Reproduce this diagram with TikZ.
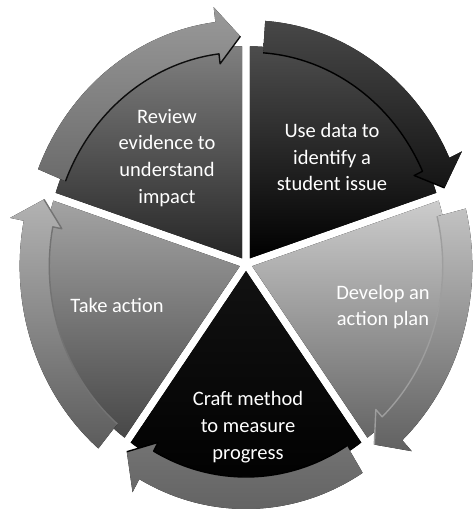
\documentclass[tikz,border=0pt]{standalone}
\usepackage{fontspec}
\setmainfont{Carlito}
\begin{document}
\begin{tikzpicture}[x=1pt,y=1pt,
  segtext/.style={text=white, align=center, inner sep=0pt,
    font=\fontsize{20.5}{26.8}\selectfont}]
\useasboundingbox (0,0) rectangle (472,514);
\fill[white] (0,0) rectangle (472,514);
% five pie segments, each with a circular arrow along its rim
\begin{scope}[shift={(246,250)}, xscale=0.925]
  \foreach \e/\wtop/\wbot/\btop/\bbot/\edge in
    {18/70/100/72/92/100, -54/20/60/24/62/38, -126/93/100/55/62/100,
     162/36/72/30/64/55, 90/50/85/40/58/95}{
    \pgfmathsetmacro\s{\e+72}
    \pgfmathsetmacro\b{\e+36}
    \begin{scope}[shift={(\b:7)}]
      % wedge
      \fill[top color=black!\wtop, bottom color=black!\wbot]
        (0,0) -- (\s:212) arc[start angle=\s, end angle=\e, radius=212] -- cycle;
      % circular arrow band with head
      \fill[top color=black!\btop, bottom color=black!\bbot]
        ({\s-4}:238) arc[start angle=\s-4, end angle=\e+7, radius=238]
        -- ({\e+7}:253) -- ({\e+0.5}:222) -- ({\e+7}:196) -- ({\e+7}:206)
        arc[start angle=\e+7, end angle=\s-4, radius=206] -- cycle;
      % inner rim of the arrow
      \draw[black!\edge, line width=1.4, line join=round]
        ({\e+0.5}:222) -- ({\e+7}:196) -- ({\e+7}:206)
        arc[start angle=\e+7, end angle=\s-4, radius=206];
    \end{scope}
  }
\end{scope}
\node[segtext] (t1) at (332,357) {Use data to\\identify a\\student issue};
\node[segtext] (t2) at (383,207) {Develop an\\action plan};
\node[segtext] (t3) at (248,87) {Craft method\\to measure\\progress};
\node[segtext] (t4) at (117,209) {Take action};
\node[segtext] (t5) at (167,356) {Review\\evidence to\\understand\\impact};
\end{tikzpicture}
\end{document}
